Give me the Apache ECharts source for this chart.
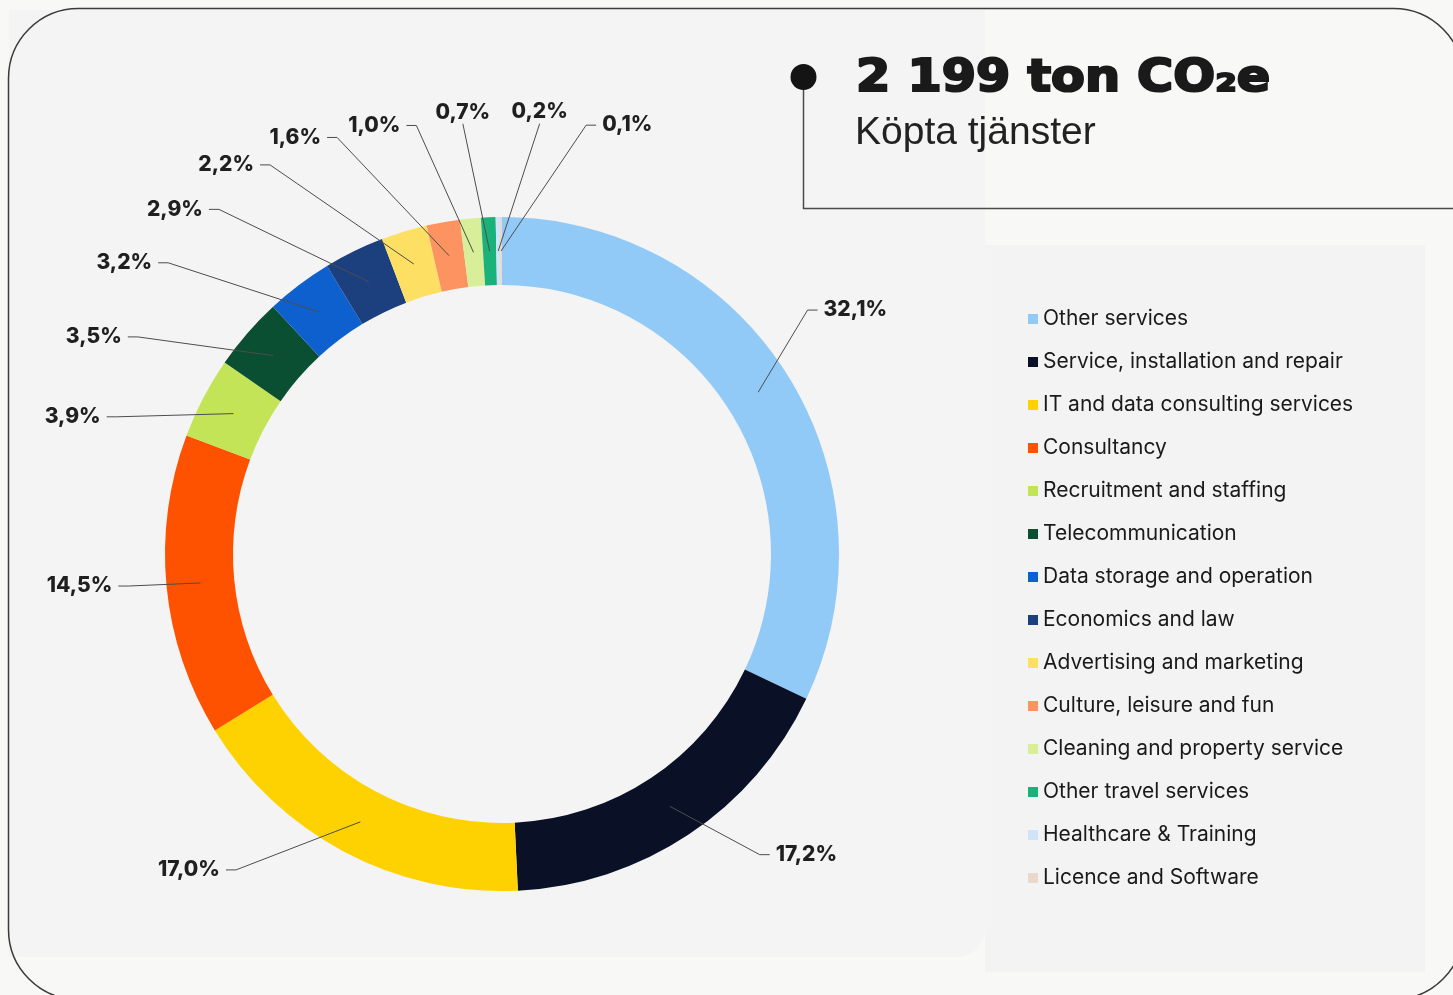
<!DOCTYPE html>
<html>
<head>
<meta charset="utf-8">
<title>Köpta tjänster</title>
<script src="https://cdn.jsdelivr.net/npm/echarts@6/dist/echarts.min.js"></script>
<style>
  html, body { margin: 0; padding: 0; background: #f8f8f6; }
  #chart { width: 1453px; height: 995px; }
</style>
</head>
<body>
<div id="chart"></div>
<script>
// categories and their share (%) of 2 199 ton CO2e
var categories = [
  "Other services",
  "Service, installation and repair",
  "IT and data consulting services",
  "Consultancy",
  "Recruitment and staffing",
  "Telecommunication",
  "Data storage and operation",
  "Economics and law",
  "Advertising and marketing",
  "Culture, leisure and fun",
  "Cleaning and property service",
  "Other travel services",
  "Healthcare & Training",
  "Licence and Software"
];
var shares = [32.1, 17.2, 17.0, 14.5, 3.9, 3.5, 3.2, 2.9, 2.2, 1.6, 1.0, 0.7, 0.2, 0.1];
var colors = [
  "#92caf7", "#0a1126", "#fdd200", "#ff5200", "#c3e456", "#0b4f32", "#0f60cf",
  "#1c3f7d", "#fde063", "#fd9360", "#d9ee98", "#1ab27a", "#cfe4f8", "#e9d8cb"
];

// label elbow placement: [angle from top in degrees, distance from centre]
var labelSpots = [
  [51.4, 391], [139.4, 396], [220.1, 413], [265.1, 375], [-70.4, 409],
  [-59.2, 424], [-48.9, 443], [-39.4, 446], [-30.8, 453], [-21.6, 448],
  [-11.3, 437], [-5.2, 432], [5.0, 432], [11.1, 437]
];

var cx = 502, cy = 554, rIn = 269, rOut = 337;
var ringMid = (rIn + rOut) / 2;

var total = shares.reduce(function (a, b) { return a + b; }, 0);
var midAngles = [];
(function () {
  var acc = 0;
  shares.forEach(function (v) {
    midAngles.push((acc + v / 2) / total * Math.PI * 2);
    acc += v;
  });
})();

function polar(a, r) {
  return [cx + r * Math.sin(a), cy - r * Math.cos(a)];
}

var pieData = categories.map(function (name, i) {
  return { name: name, value: shares[i], itemStyle: { color: colors[i] } };
});

var chart = echarts.init(document.getElementById("chart"));

var option = {
  backgroundColor: "#f8f8f6",
  animation: false,
  legend: {
    orient: "vertical",
    left: 1028,
    top: 308,
    padding: 0,
    itemWidth: 10,
    itemHeight: 10,
    itemGap: 21,
    icon: "rect",
    selectedMode: false,
    textStyle: {
      fontFamily: "Inter",
      fontSize: 21,
      lineHeight: 22,
      color: "#1a1a1a"
    },
    data: categories
  },
  graphic: [
    {
      type: "rect", z: -10, silent: true,
      shape: { x: 9, y: 10, width: 976, height: 947, r: [0, 0, 28, 0] },
      style: { fill: "#f4f4f4" }
    },
    {
      type: "rect", z: -10, silent: true,
      shape: { x: 985, y: 245, width: 440, height: 727 },
      style: { fill: "#f3f3f3" }
    },
    {
      type: "rect", z: 50, silent: true,
      shape: { x: 8.5, y: 8.5, width: 1455, height: 991, r: 70 },
      style: { fill: null, stroke: "#3a3a3a", lineWidth: 1.5 }
    },
    {
      type: "polyline", z: 50, silent: true,
      shape: { points: [[803.5, 77], [803.5, 208.5], [1460, 208.5]] },
      style: { fill: null, stroke: "#4a4a4a", lineWidth: 1.5 }
    },
    {
      type: "circle", z: 51, silent: true,
      shape: { cx: 803.5, cy: 77, r: 13 },
      style: { fill: "#141414" }
    },
    {
      type: "text", z: 51, silent: true,
      x: 856, y: 80, scaleX: 1.12,
      style: {
        text: "2 199 ton CO\u2082e",
        font: "bold 44px 'DejaVu Sans'",
        fill: "#1a1a1a",
        stroke: "#1a1a1a",
        lineWidth: 2.2,
        textVerticalAlign: "middle"
      }
    },
    {
      type: "text", z: 51, silent: true,
      x: 855, y: 133,
      style: {
        text: "Köpta tjänster",
        font: "39px 'Liberation Sans'",
        fill: "#222222",
        textVerticalAlign: "middle"
      }
    }
  ],
  series: [
    {
      name: "ring",
      type: "pie",
      z: 2,
      center: [cx, cy],
      radius: [rIn, rOut],
      startAngle: 90,
      clockwise: true,
      silent: true,
      emphasis: { disabled: true },
      itemStyle: { borderWidth: 0 },
      label: { show: false },
      labelLine: { show: false },
      data: pieData
    },
    {
      // transparent copy on top so the label lines run over the ring
      name: "labels",
      type: "pie",
      z: 5,
      center: [cx, cy],
      radius: [rIn, rOut],
      startAngle: 90,
      clockwise: true,
      silent: true,
      avoidLabelOverlap: false,
      emphasis: { disabled: true },
      itemStyle: { color: "rgba(0,0,0,0)", borderWidth: 0 },
      label: {
        show: true,
        position: "outside",
        fontFamily: "Inter",
        fontWeight: 800,
        fontSize: 21,
        color: "#1f1f1f",
        formatter: function (p) {
          return p.value.toFixed(1).replace(".", ",") + "%";
        }
      },
      labelLine: {
        show: true,
        lineStyle: { color: "#4d4d4d", width: 1 }
      },
      labelLayout: function (params) {
        var i = params.dataIndex;
        var s = polar(midAngles[i], ringMid);
        var deg = labelSpots[i][0];
        var a = deg * Math.PI / 180;
        var e = polar(a, labelSpots[i][1]);
        if (Math.abs(deg) < 8) {
          return {
            x: e[0], y: e[1] - 1,
            align: "center", verticalAlign: "bottom",
            labelLinePoints: [s, e, e]
          };
        }
        var side = Math.sin(a) > 0 ? 1 : -1;
        var h = [e[0] + side * 10, e[1]];
        return {
          x: h[0] + side * 6, y: e[1],
          align: side > 0 ? "left" : "right",
          verticalAlign: "middle",
          labelLinePoints: [s, e, h]
        };
      },
      data: categories.map(function (name, i) {
        return { name: name, value: shares[i] };
      })
    }
  ]
};

chart.setOption(option);
</script>
</body>
</html>
